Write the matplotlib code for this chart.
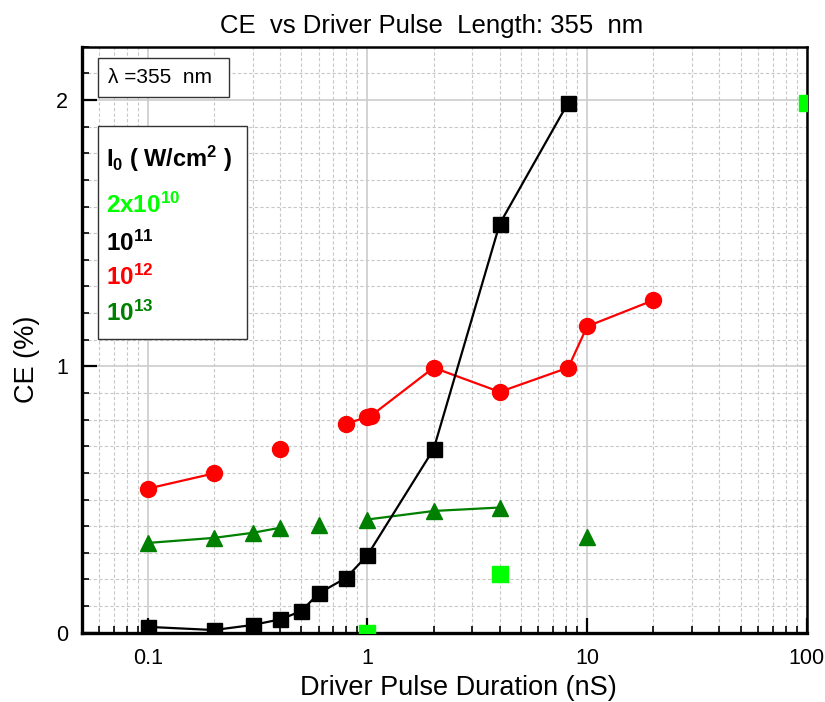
import matplotlib
matplotlib.use("Agg")
import matplotlib.pyplot as plt
from matplotlib.patches import Rectangle
from matplotlib.ticker import MultipleLocator, LogLocator, FixedLocator, NullFormatter
import numpy as np

plt.rcParams['font.family'] = ['Liberation Sans', 'DejaVu Sans']
plt.rcParams['mathtext.fontset'] = 'custom'
plt.rcParams['mathtext.rm'] = 'Liberation Sans'
plt.rcParams['mathtext.bf'] = 'Liberation Sans:bold'
plt.rcParams['mathtext.it'] = 'Liberation Sans:italic'

# ---- data ----
# 10^11 W/cm^2 (black squares)
x_e11 = [0.1, 0.2, 0.3, 0.4, 0.5, 0.6, 0.8, 1.0, 2.0, 4.0, 8.2]
y_e11 = [0.022, 0.01, 0.029, 0.05, 0.081, 0.148, 0.206, 0.291, 0.689, 1.535, 1.99]

# 10^12 W/cm^2 (red circles): segments
x_e12_a = [0.1, 0.2]
y_e12_a = [0.541, 0.598]
x_e12_b = [0.4]
y_e12_b = [0.688]
x_e12_c = [0.8, 1.0, 1.04, 2.0, 4.0, 8.2, 10.0, 20.0]
y_e12_c = [0.785, 0.81, 0.815, 0.995, 0.904, 0.995, 1.15, 1.248]

# 10^13 W/cm^2 (green triangles): segments
x_e13_a = [0.1, 0.2, 0.3, 0.4]
y_e13_a = [0.337, 0.356, 0.375, 0.394]
x_e13_b = [0.6]
y_e13_b = [0.406]
x_e13_c = [1.0, 2.0, 4.0]
y_e13_c = [0.425, 0.457, 0.47]
x_e13_d = [10.0]
y_e13_d = [0.358]

# 2x10^10 W/cm^2 (light green squares)
x_2e10 = [1.0, 4.0, 100.0]
y_2e10 = [0.0, 0.219, 1.99]

x_ticks = [0.1, 1, 10, 100]
x_ticklabels = ['0.1', '1', '10', '100']
y_ticks = [0, 1, 2]
y_ticklabels = ['0', '1', '2']

fig = plt.figure(figsize=(8.25, 7.02), dpi=100)
ax = fig.add_axes([0.099, 0.0987, 0.879, 0.8348])

green = '#008000'
lime = '#00ff00'

for xs, ys in [(x_e13_a, y_e13_a), (x_e13_b, y_e13_b), (x_e13_c, y_e13_c), (x_e13_d, y_e13_d)]:
    ax.plot(xs, ys, color=green, lw=1.6, marker='^', ms=12, mec=green, mfc=green, zorder=3)
for xs, ys in [(x_e12_a, y_e12_a), (x_e12_b, y_e12_b), (x_e12_c, y_e12_c)]:
    ax.plot(xs, ys, color='red', lw=1.6, marker='o', ms=11.5, mec='red', mfc='red', zorder=3)
ax.plot(x_e11, y_e11, color='black', lw=1.6, marker='s', ms=10.8, mec='black', mfc='black', zorder=4)
ax.plot(x_2e10, y_2e10, ls='none', marker='s', ms=11.5, mec=lime, mfc=lime, zorder=4)

ax.set_xscale('log')
ax.set_xlim(0.05, 100)
ax.set_ylim(0, 2.2)

ax.xaxis.set_major_locator(FixedLocator(x_ticks))
ax.set_xticklabels(x_ticklabels)
ax.xaxis.set_minor_locator(LogLocator(base=10, subs=np.arange(2, 10)))
ax.xaxis.set_minor_formatter(NullFormatter())
ax.yaxis.set_major_locator(FixedLocator(y_ticks))
ax.set_yticklabels(y_ticklabels)
ax.yaxis.set_minor_locator(MultipleLocator(0.1))

ax.grid(which='major', color='#cccccc', lw=1.2, ls='-', zorder=0)
ax.grid(which='minor', color='#c8c8c8', lw=0.8, ls=(0, (3, 2)), zorder=0)
ax.set_axisbelow(True)

ax.tick_params(which='major', direction='in', length=11, width=1.6, labelsize=15.5, colors='black')
ax.tick_params(axis='x', which='major', pad=11)
ax.tick_params(axis='y', which='major', pad=10)
ax.tick_params(which='minor', direction='in', length=5, width=1.2)

for side in ['left', 'bottom']:
    ax.spines[side].set_linewidth(2.4)
for side in ['top', 'right']:
    ax.spines[side].set_linewidth(1.8)

ax.set_title('CE  vs Driver Pulse  Length: 355  nm', fontsize=18.5, pad=10, x=0.483)
ax.set_xlabel('Driver Pulse Duration (nS)', fontsize=19.5)
ax.set_ylabel('CE (%)', fontsize=19.5)
ax.xaxis.set_label_coords(0.52, -0.072)
ax.yaxis.set_label_coords(-0.057, 0.467)

# lambda box
ax.add_patch(Rectangle((0.0225, 0.914), 0.1803, 0.067, transform=ax.transAxes,
                       fill=True, facecolor='white', edgecolor='#333333', lw=1.0, zorder=5))
ax.text(0.036, 0.947, 'λ =355  nm', transform=ax.transAxes, fontsize=15,
        va='center', ha='left', zorder=6)

# legend box
ax.add_patch(Rectangle((0.0225, 0.5007), 0.2055, 0.3643, transform=ax.transAxes,
                       fill=True, facecolor='white', edgecolor='#333333', lw=1.0, zorder=5))
ax.text(0.0336, 0.795, r'$\mathbf{I_0\ (\ W/cm^2\ )}$', transform=ax.transAxes,
        fontsize=17, va='baseline', ha='left', zorder=6)
ax.text(0.0336, 0.7157, r'$\mathbf{2x10^{10}}$', transform=ax.transAxes, color=lime,
        fontsize=17.5, va='baseline', ha='left', zorder=6)
ax.text(0.0336, 0.652, r'$\mathbf{10^{11}}$', transform=ax.transAxes, color='black',
        fontsize=17.5, va='baseline', ha='left', zorder=6)
ax.text(0.0336, 0.593, r'$\mathbf{10^{12}}$', transform=ax.transAxes, color='red',
        fontsize=17.5, va='baseline', ha='left', zorder=6)
ax.text(0.0336, 0.532, r'$\mathbf{10^{13}}$', transform=ax.transAxes, color=green,
        fontsize=17.5, va='baseline', ha='left', zorder=6)

fig.savefig('out.png', dpi=100)
